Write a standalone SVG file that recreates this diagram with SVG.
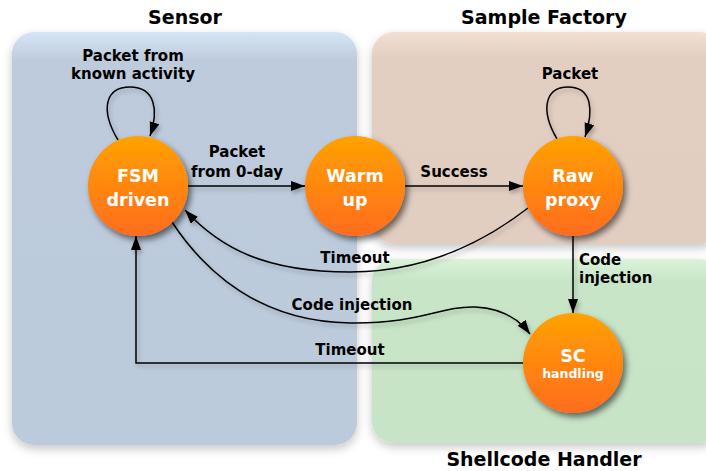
<svg xmlns="http://www.w3.org/2000/svg" width="706" height="471" viewBox="0 0 706 471">
  <defs>
    <style>
      .title { font-family: "DejaVu Sans", Verdana, sans-serif; font-weight: bold; font-size: 19px; fill: #000; text-anchor: middle; }
      .lbl { font-family: "DejaVu Sans", Verdana, sans-serif; font-weight: bold; font-size: 15px; fill: #000; text-anchor: middle; }
      .lbl-l { text-anchor: start; }
      .ntext { font-family: "DejaVu Sans", Verdana, sans-serif; font-weight: bold; font-size: 17.5px; fill: #fff; text-anchor: middle; }
      .nsmall { font-size: 12.5px; }
      .state { fill: url(#orange); filter: url(#nodeShadow); }
      .edge { fill: none; stroke: #000; stroke-width: 1.5; }
      .arrow { marker-end: url(#head); }
    </style>
    <linearGradient id="orange" x1="0" y1="0" x2="0" y2="1">
      <stop offset="0" stop-color="#ffa200"/>
      <stop offset="1" stop-color="#ff6c1e"/>
    </linearGradient>
    <linearGradient id="blueFill" x1="0" y1="0" x2="0" y2="1">
      <stop offset="0" stop-color="#d6e5f5"/>
      <stop offset="0.07" stop-color="#bdcbdc"/>
      <stop offset="1" stop-color="#bccbdc"/>
    </linearGradient>
    <linearGradient id="tanFill" x1="0" y1="0" x2="0" y2="1">
      <stop offset="0" stop-color="#f4dfd2"/>
      <stop offset="0.12" stop-color="#e3cec2"/>
      <stop offset="1" stop-color="#e2cdc1"/>
    </linearGradient>
    <linearGradient id="greenFill" x1="0" y1="0" x2="0" y2="1">
      <stop offset="0" stop-color="#d9f4d9"/>
      <stop offset="0.12" stop-color="#c8e5c8"/>
      <stop offset="1" stop-color="#c7e4c7"/>
    </linearGradient>
    <filter id="panelShadow" x="-10%" y="-10%" width="120%" height="120%">
      <feDropShadow dx="0" dy="4" stdDeviation="5" flood-color="#000" flood-opacity="0.22"/>
    </filter>
    <filter id="nodeShadow" x="-20%" y="-20%" width="150%" height="150%">
      <feDropShadow dx="3" dy="4" stdDeviation="3" flood-color="#000" flood-opacity="0.55"/>
    </filter>
    <filter id="edgeShadow" x="-10%" y="-10%" width="120%" height="130%">
      <feDropShadow dx="2" dy="3" stdDeviation="2" flood-color="#000" flood-opacity="0.25"/>
    </filter>
    <marker id="head" markerUnits="userSpaceOnUse" markerWidth="16" markerHeight="12" refX="14" refY="5" orient="auto">
      <path d="M0,0 L14,5 L0,10 Z" fill="#000"/>
    </marker>
  </defs>

  <rect width="706" height="471" fill="#fff"/>

  <!-- regions -->
  <g id="sensor-region">
    <rect x="12" y="32" width="345" height="413" rx="22" fill="url(#blueFill)" filter="url(#panelShadow)"/>
    <text class="title" x="185" y="24">Sensor</text>
  </g>
  <g id="factory-region">
    <rect x="372" y="32" width="350" height="212" rx="22" fill="url(#tanFill)" filter="url(#panelShadow)"/>
    <text class="title" x="544" y="24">Sample Factory</text>
  </g>
  <g id="shellcode-region">
    <rect x="372" y="259" width="350" height="184" rx="22" fill="url(#greenFill)" filter="url(#panelShadow)"/>
    <text class="title" x="544" y="466">Shellcode Handler</text>
  </g>

  <!-- transitions -->
  <g id="connectors" filter="url(#edgeShadow)">
    <path class="edge arrow" d="M118,140 C100,110 105,87 130,87 C155,87 159,110 150,136"/>
    <path class="edge arrow" d="M188,186 L305,186"/>
    <path class="edge arrow" d="M405,186 L523,186"/>
    <path class="edge arrow" d="M557,139 C540,110 545,87 568,87 C592,87 594,110 585,137"/>
    <path class="edge arrow" d="M528,208 C480,245 420,272 350,272 C265,272 220,248 185,210"/>
    <path class="edge arrow" d="M172,222 C205,272 260,322 350,323 C420,324 440,306 475,307 C500,308 518,318 530,334"/>
    <path class="edge arrow" d="M573,236 L573,313"/>
    <path class="edge arrow" d="M523,363 L136,363 L136,236"/>
  </g>

  <!-- transition labels -->
  <g id="labels">
    <text class="lbl" x="133" y="61">Packet from</text>
    <text class="lbl" x="133" y="79">known activity</text>
    <text class="lbl" x="237" y="157">Packet</text>
    <text class="lbl" x="237" y="177">from 0-day</text>
    <text class="lbl" x="454" y="177">Success</text>
    <text class="lbl" x="570" y="79">Packet</text>
    <text class="lbl" x="355" y="263">Timeout</text>
    <text class="lbl" x="352" y="310">Code injection</text>
    <text class="lbl" x="350" y="355">Timeout</text>
    <text class="lbl lbl-l" x="579" y="265">Code</text>
    <text class="lbl lbl-l" x="579" y="283">injection</text>
  </g>

  <!-- states -->
  <g id="fsm-driven">
    <circle class="state" cx="138" cy="186" r="50"/>
    <text class="ntext" x="138" y="182">FSM</text>
    <text class="ntext" x="138" y="206">driven</text>
  </g>
  <g id="warm-up">
    <circle class="state" cx="355" cy="186" r="50"/>
    <text class="ntext" x="355" y="182">Warm</text>
    <text class="ntext" x="355" y="206">up</text>
  </g>
  <g id="raw-proxy">
    <circle class="state" cx="573" cy="186" r="50"/>
    <text class="ntext" x="573" y="182">Raw</text>
    <text class="ntext" x="573" y="206">proxy</text>
  </g>
  <g id="sc-handling">
    <circle class="state" cx="573" cy="363" r="50"/>
    <text class="ntext" x="573" y="362">SC</text>
    <text class="ntext nsmall" x="573" y="378">handling</text>
  </g>
</svg>
